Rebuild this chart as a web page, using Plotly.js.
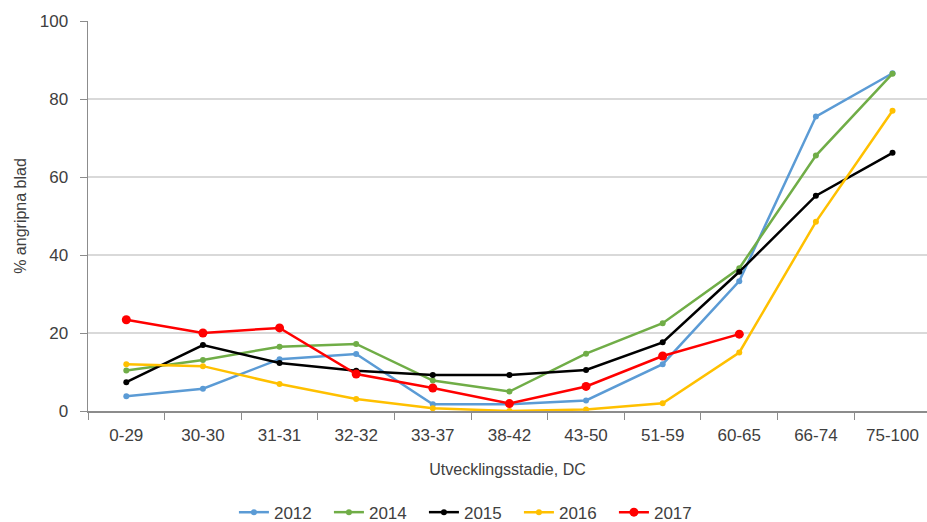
<!DOCTYPE html>
<html><head><meta charset="utf-8">
<script src="https://cdn.plot.ly/plotly-3.0.1.min.js"></script>
<style>html,body{margin:0;padding:0;background:#fff}</style>
</head><body>
<div id="chart" style="width:927px;height:522px"></div>
<script>
const categories = ["0-29","30-30","31-31","32-32","33-37","38-42","43-50","51-59","60-65","66-74","75-100"];
const y2012 = [3.8, 5.7, 13.3, 14.6, 1.7, 1.7, 2.7, 12.0, 33.3, 75.5, 86.6];
const y2014 = [10.4, 13.1, 16.5, 17.2, 7.8, 5.0, 14.7, 22.5, 36.6, 65.5, 86.5];
const y2015 = [7.4, 16.9, 12.3, 10.3, 9.2, 9.2, 10.5, 17.6, 35.7, 55.2, 66.2];
const y2016 = [12.0, 11.5, 6.9, 3.1, 0.7, 0.0, 0.4, 2.0, 15.0, 48.5, 77.0];
const y2017 = [23.4, 20.0, 21.3, 9.5, 5.9, 1.9, 6.3, 14.1, 19.7, null, null];
const seriesNames = ["2012","2014","2015","2016","2017"];

const colors = ["#5B9BD5","#70AD47","#000000","#FFC000","#FF0000"];
const vals = [y2012, y2014, y2015, y2016, y2017];
const traces = vals.map((v,i)=>({
  x: categories, y: v, name: seriesNames[i], type: "scatter", mode: "lines+markers",
  line: {color: colors[i], width: 2.5},
  marker: {color: colors[i], size: i===4 ? 9 : 6},
  connectgaps: false
}));
const layout = {
  width: 927, height: 522,
  margin: {l: 88, r: 0, t: 21, b: 111},
  paper_bgcolor: "#fff", plot_bgcolor: "#fff",
  font: {family: "Liberation Sans, Arial, sans-serif", size: 17, color: "#404040"},
  xaxis: {
    type: "category", range: [-0.5, 10.45],
    showline: true, linecolor: "#8c8c8c", linewidth: 1.5,
    ticks: "outside", tickson: "boundaries", ticklen: 7, tickcolor: "#8c8c8c",
    ticklabelstandoff: 8,
    showgrid: false, zeroline: false,
    tickfont: {size: 17, color: "#404040"},
    title: {text: "Utvecklingsstadie, DC", font: {size: 16, color: "#404040"}, standoff: 20}
  },
  yaxis: {
    range: [0, 100], dtick: 20,
    showline: true, linecolor: "#8c8c8c", linewidth: 1.5,
    ticks: "outside", ticklen: 7, tickcolor: "#8c8c8c",
    ticklabelstandoff: 8,
    showgrid: true, gridcolor: "#d9d9d9", gridwidth: 1.2, zeroline: false,
    tickfont: {size: 17, color: "#404040"},
    title: {text: "% angripna blad", font: {size: 16, color: "#404040"}, standoff: 9}
  },
  legend: {orientation: "h", x: 0.457, xanchor: "center", yref: "container", y: 0.018, yanchor: "middle",
    entrywidth: 50,
    font: {size: 17, color: "#404040"}, traceorder: "normal"},
  showlegend: true
};
Plotly.newPlot("chart", traces, layout, {displayModeBar: false, staticPlot: true});
</script>
</body></html>
